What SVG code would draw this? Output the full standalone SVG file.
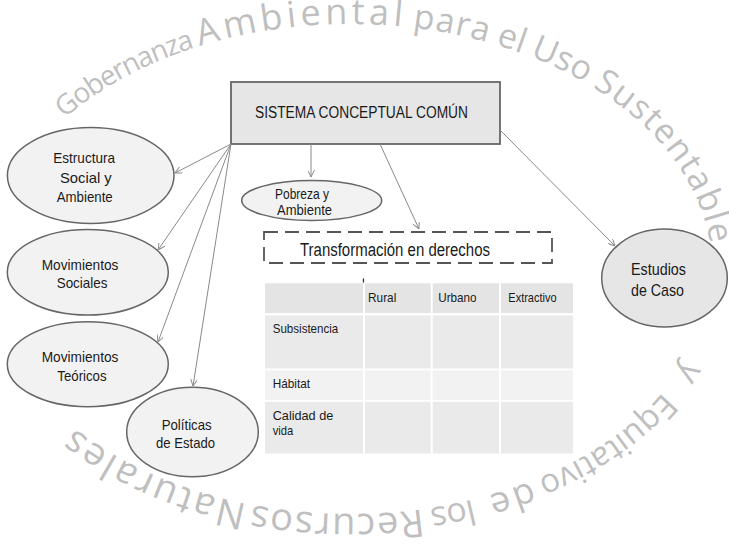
<svg xmlns="http://www.w3.org/2000/svg" width="729" height="559" viewBox="0 0 729 559">
<defs>
<style>
.t{font-family:"Liberation Sans Narrow","Liberation Sans",Arial,sans-serif;fill:#1a1a1a;}
.wm{font-family:"Open Sans","DejaVu Sans",sans-serif;fill:#bfbfbf;}
.el{fill:#f2f2f2;stroke:#666666;stroke-width:1.5;}
.conn{stroke:#8a8a8a;stroke-width:1;fill:none;marker-end:url(#arr);}
.h{fill:#e4e4e4;}.r1{fill:#eaeaea;}.r2{fill:#f2f2f2;}
</style>
<marker id="arr" viewBox="0 0 10 10" refX="10" refY="5" markerWidth="7" markerHeight="7" markerUnits="userSpaceOnUse" orient="auto"><path d="M0,0 L10,5 L0,10" fill="none" stroke="#8a8a8a" stroke-width="1.4"/></marker>
<path id="wmPath" d="M64.7,118.2 A362,245 0 0 1 712,269 A362,245 0 0 1 36.5,391.5" fill="none"/>
</defs>
<rect width="729" height="559" fill="#ffffff"/>
<g id="watermark" class="wm">
<text font-size="28" letter-spacing="-1.2"><textPath href="#wmPath" startOffset="0">Gobernanza</textPath></text>
<text font-size="36" letter-spacing="4.1"><textPath href="#wmPath" startOffset="154">Ambiental</textPath></text>
<text font-size="34" letter-spacing="1.2"><textPath href="#wmPath" startOffset="369">para</textPath></text>
<text font-size="34"><textPath href="#wmPath" startOffset="454">el</textPath></text>
<text font-size="34"><textPath href="#wmPath" startOffset="490">Uso</textPath></text>
<text font-size="34" letter-spacing="1.5"><textPath href="#wmPath" startOffset="560">Sustentable</textPath></text>
<text font-size="34"><textPath href="#wmPath" startOffset="884">y</textPath></text>
<text font-size="33"><textPath href="#wmPath" startOffset="923">Equitativo</textPath></text>
<text font-size="36" letter-spacing="3"><textPath href="#wmPath" startOffset="1084">de</textPath></text>
<text font-size="34" letter-spacing="-0.5"><textPath href="#wmPath" startOffset="1145">los</textPath></text>
<text font-size="38" letter-spacing="1.4"><textPath href="#wmPath" startOffset="1196">Recursos</textPath></text>
<text font-size="38" letter-spacing="2.2"><textPath href="#wmPath" startOffset="1372">Naturales</textPath></text>
</g>
<g id="node-sistema">
<rect x="231" y="82" width="269" height="62" fill="#e6e6e6" stroke="#666666" stroke-width="1.8"/>
<text class="t" x="255" y="118" font-size="16" textLength="213" lengthAdjust="spacingAndGlyphs">SISTEMA CONCEPTUAL COMÚN</text>
</g>
<g id="node-estructura">
<ellipse class="el" cx="90.7" cy="175.5" rx="83.3" ry="48"/>
<text class="t" font-size="15"><tspan x="53.3" y="162.7" textLength="61.7" lengthAdjust="spacingAndGlyphs">Estructura</tspan><tspan x="60" y="182.7" textLength="51.7" lengthAdjust="spacingAndGlyphs">Social  y</tspan><tspan x="56.7" y="201.7" textLength="56" lengthAdjust="spacingAndGlyphs">Ambiente</tspan></text>
</g>
<g id="node-mov-sociales">
<ellipse class="el" cx="87.8" cy="272.2" rx="80.5" ry="42.8"/>
<text class="t" font-size="15"><tspan x="41.7" y="270" textLength="76.7" lengthAdjust="spacingAndGlyphs">Movimientos</tspan><tspan x="56.7" y="288.3" textLength="50.7" lengthAdjust="spacingAndGlyphs">Sociales</tspan></text>
</g>
<g id="node-mov-teoricos">
<ellipse class="el" cx="87.8" cy="364.2" rx="80.5" ry="42.5"/>
<text class="t" font-size="15"><tspan x="41.7" y="362.3" textLength="76.7" lengthAdjust="spacingAndGlyphs">Movimientos</tspan><tspan x="57.3" y="380.7" textLength="49.3" lengthAdjust="spacingAndGlyphs">Teóricos</tspan></text>
</g>
<g id="node-politicas">
<ellipse class="el" cx="192.5" cy="432" rx="65.8" ry="44.7"/>
<text class="t" font-size="15"><tspan x="161.7" y="430" textLength="50" lengthAdjust="spacingAndGlyphs">Políticas</tspan><tspan x="156" y="448" textLength="59" lengthAdjust="spacingAndGlyphs">de Estado</tspan></text>
</g>
<g id="node-pobreza">
<ellipse class="el" cx="311.7" cy="200.5" rx="70" ry="20"/>
<text class="t" font-size="15"><tspan x="275" y="199" textLength="54" lengthAdjust="spacingAndGlyphs">Pobreza y</tspan><tspan x="277" y="215" textLength="55" lengthAdjust="spacingAndGlyphs">Ambiente</tspan></text>
</g>
<g id="node-transformacion">
<rect x="264" y="232" width="288" height="31" fill="none" stroke="#555555" stroke-width="1.8" stroke-dasharray="14 7"/>
<text class="t" x="300" y="256" font-size="18" textLength="190" lengthAdjust="spacingAndGlyphs">Transformación en derechos</text>
</g>
<g id="node-estudios">
<ellipse cx="664.5" cy="278" rx="62.8" ry="49" fill="#e6e6e6" stroke="#666666" stroke-width="1.5"/>
<text class="t" font-size="17"><tspan x="631" y="275" textLength="55" lengthAdjust="spacingAndGlyphs">Estudios</tspan><tspan x="631" y="296" textLength="53" lengthAdjust="spacingAndGlyphs">de Caso</tspan></text>
</g>
<g id="table">
<rect x="362.8" y="278.5" width="1.3" height="4" fill="#333333"/>
<rect class="h" x="265" y="283.3" width="98" height="29.7"/>
<rect class="h" x="365" y="283.3" width="65.7" height="29.7"/>
<rect class="h" x="432.7" y="283.3" width="66.3" height="29.7"/>
<rect class="h" x="501" y="283.3" width="72" height="29.7"/>
<rect class="r1" x="265" y="315.5" width="98" height="53"/>
<rect class="r1" x="365" y="315.5" width="65.7" height="53"/>
<rect class="r1" x="432.7" y="315.5" width="66.3" height="53"/>
<rect class="r1" x="501" y="315.5" width="72" height="53"/>
<rect class="r2" x="265" y="370.3" width="98" height="29.7"/>
<rect class="r2" x="365" y="370.3" width="65.7" height="29.7"/>
<rect class="r2" x="432.7" y="370.3" width="66.3" height="29.7"/>
<rect class="r2" x="501" y="370.3" width="72" height="29.7"/>
<rect class="r1" x="265" y="401.8" width="98" height="51.7"/>
<rect class="r1" x="365" y="401.8" width="65.7" height="51.7"/>
<rect class="r1" x="432.7" y="401.8" width="66.3" height="51.7"/>
<rect class="r1" x="501" y="401.8" width="72" height="51.7"/>
<text class="t" font-size="13"><tspan x="368" y="301.7" textLength="28.3" lengthAdjust="spacingAndGlyphs">Rural</tspan><tspan x="438.3" y="301.7" textLength="38.3" lengthAdjust="spacingAndGlyphs">Urbano</tspan><tspan x="508.3" y="301.7" textLength="48.3" lengthAdjust="spacingAndGlyphs">Extractivo</tspan><tspan x="272.7" y="333.3" textLength="65.6" lengthAdjust="spacingAndGlyphs">Subsistencia</tspan><tspan x="272.7" y="388.3" textLength="37.3" lengthAdjust="spacingAndGlyphs">Hábitat</tspan><tspan x="272.7" y="420" textLength="60.6" lengthAdjust="spacingAndGlyphs">Calidad de</tspan><tspan x="272.7" y="435" textLength="20.6" lengthAdjust="spacingAndGlyphs">vida</tspan></text>
</g>
<g id="connectors">
<line class="conn" x1="231" y1="144" x2="175" y2="173"/>
<line class="conn" x1="231" y1="144" x2="158" y2="250"/>
<line class="conn" x1="231" y1="144" x2="158" y2="342"/>
<line class="conn" x1="231" y1="144" x2="193" y2="386"/>
<line class="conn" x1="311" y1="144" x2="311" y2="177"/>
<line class="conn" x1="380" y1="144" x2="419" y2="229"/>
<line class="conn" x1="500" y1="130" x2="615" y2="246"/>
</g>
</svg>
